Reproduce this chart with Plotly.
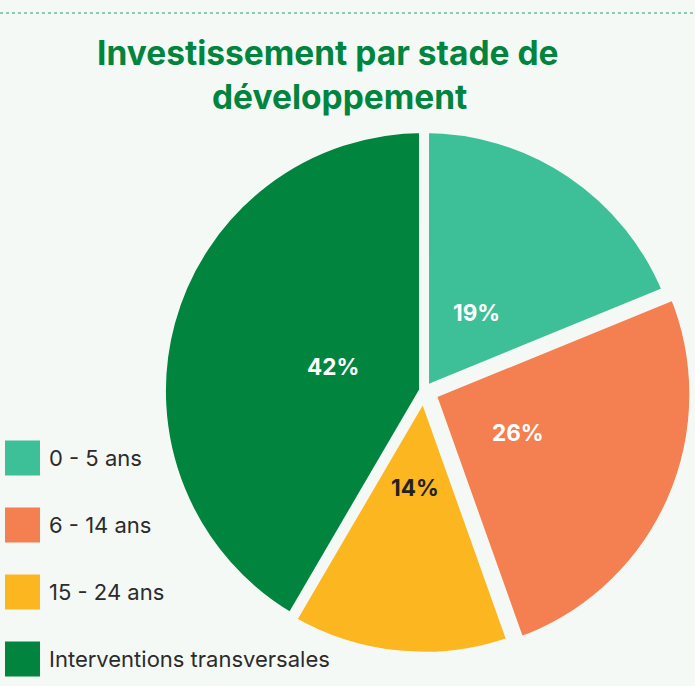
import math
import plotly.graph_objects as go

categories = ["0 - 5 ans", "6 - 14 ans", "15 - 24 ans", "Interventions transversales"]
values = [19, 26, 14, 42]
colors = ["#3dbf98", "#f47f50", "#fcb61f", "#00843e"]
text_colors = ["#ffffff", "#ffffff", "#222222", "#ffffff"]
pulls = [0.0, 0.03, 0.01, 0.0]
title_lines = ["Investissement par stade de", "développement"]

BG = "#f5f9f6"
W, H = 695, 686

# pie geometry (paper domain)
DX = [0.2202, 1.0]
DY = [0.032, 0.828]
LINE_W = 10
LABEL_FRAC = 0.36

fig = go.Figure()
fig.add_trace(go.Pie(
    labels=categories,
    values=values,
    sort=False,
    direction="clockwise",
    rotation=0,
    pull=pulls,
    marker=dict(colors=colors, line=dict(color=BG, width=LINE_W)),
    textinfo="none",
    hoverinfo="label+percent",
    showlegend=False,
    domain=dict(x=DX, y=DY),
))

# centre and radius as plotly computes them
cx = W * (DX[0] + DX[1]) / 2
cy = H * (1 - (DY[0] + DY[1]) / 2)
R = min(W * (DX[1] - DX[0]), H * (DY[1] - DY[0])) / 2 / (1 + max(pulls))

shapes = [dict(type="line", xref="paper", yref="paper", x0=0, x1=1,
               y0=1 - 13 / H, y1=1 - 13 / H,
               line=dict(color="#2f9e68", width=1.2, dash="dot"))]
annotations = []

# title, one annotation per line
for txt, xc, yc in zip(title_lines, [327.5, 339], [53.5, 97]):
    annotations.append(dict(text="<b>" + txt + "</b>", x=xc / W, y=1 - yc / H,
                            xref="paper", yref="paper", xanchor="center", yanchor="middle",
                            showarrow=False,
                            font=dict(family="Inter", size=33.5, color="#00843e")))

# percentage labels placed along each slice's bisector
total = sum(values)
cum = 0
for v, p, tc in zip(values, pulls, text_colors):
    mid = (cum + v / 2) / total * 2 * math.pi
    cum += v
    r = LABEL_FRAC * R + p * R
    x = cx + r * math.sin(mid)
    y = cy - r * math.cos(mid)
    annotations.append(dict(text="<b>%d%%</b>" % v, x=x / W, y=1 - y / H,
                            xref="paper", yref="paper", xanchor="center", yanchor="middle",
                            showarrow=False,
                            font=dict(family="Inter", size=22.5, color=tc)))

# legend drawn as squares + labels
for i, (cat, col) in enumerate(zip(categories, colors)):
    yc = 458 + 67 * i
    shapes.append(dict(type="rect", xref="paper", yref="paper",
                       x0=5 / W, x1=40 / W,
                       y0=1 - (yc + 17.5) / H, y1=1 - (yc - 17.5) / H,
                       fillcolor=col, line=dict(width=0)))
    annotations.append(dict(text=cat, x=47 / W, y=1 - yc / H, xref="paper", yref="paper",
                            xanchor="left", yanchor="middle", showarrow=False,
                            font=dict(family="Inter", size=22, color="#2b2b2b")))

fig.update_layout(
    width=W, height=H,
    margin=dict(l=0, r=0, t=0, b=0),
    paper_bgcolor=BG, plot_bgcolor=BG,
    shapes=shapes, annotations=annotations,
)
fig.write_html("out.html",
               config={"displayModeBar": False},
               post_script="document.body.style.margin='0';document.body.style.background='%s';" % BG)
